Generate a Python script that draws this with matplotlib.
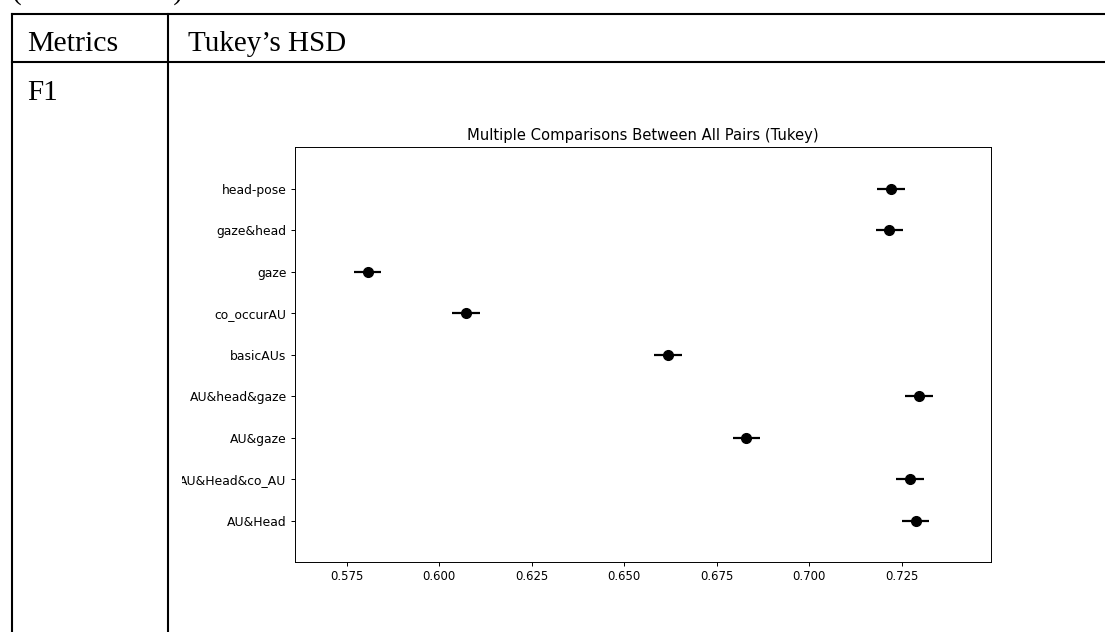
import matplotlib.pyplot as plt
from matplotlib.lines import Line2D
from matplotlib.transforms import Bbox, TransformedBbox

# group names (bottom to top) and Tukey group means
groups = ["AU&Head", "AU&Head&co_AU", "AU&gaze", "AU&head&gaze", "basicAUs",
          "co_occurAU", "gaze", "gaze&head", "head-pose"]
means = [0.7287, 0.7272, 0.6830, 0.7296, 0.6618, 0.6072, 0.5806, 0.7216, 0.7221]
halfwidth = [0.0037] * len(groups)

xticks = [0.575, 0.600, 0.625, 0.650, 0.675, 0.700, 0.725]

fig = plt.figure(figsize=(11.05, 6.32), dpi=100)

# table frame around the chart
W, H = 1105, 632
def fx(px):
    return px / W
def fy(py):
    return 1 - py / H

lw = 1.5
fig.add_artist(Line2D([fx(12), 1], [fy(14), fy(14)], color='black', lw=lw))
fig.add_artist(Line2D([fx(12), 1], [fy(62), fy(62)], color='black', lw=lw))
fig.add_artist(Line2D([fx(12), fx(12)], [fy(14), 0], color='black', lw=lw))
fig.add_artist(Line2D([fx(168), fx(168)], [fy(14), 0], color='black', lw=lw))

serif = ['Liberation Serif', 'DejaVu Serif']
# caption line above the table, only its lower edge is visible in the page crop
fig.text(fx(12), fy(-1), "(Continuation)", family=serif, fontsize=21, va='baseline')
fig.text(fx(27), fy(51), "Metrics", family=serif, fontsize=21.5, va='baseline')
fig.text(fx(188), fy(51), "Tukey’s HSD", family=serif, fontsize=21, va='baseline')
fig.text(fx(27), fy(100), "F1", family=serif, fontsize=21, va='baseline')

# the chart itself
ax = fig.add_axes([fx(295), fy(562), fx(990.7) - fx(295), fy(147.3) - fy(562)])
ypos = list(range(len(groups)))
ax.errorbar(means, ypos, xerr=halfwidth, fmt='o', color='black',
            markersize=7, elinewidth=1.6, capsize=0)
ax.set_ylim(-1, len(groups))
ax.set_xlim(0.561, 0.749)
ax.set_yticks(ypos)
ax.set_yticklabels(groups)
ax.set_xticks(xticks)
ax.set_xticklabels([f"{t:.3f}" for t in xticks])
ax.tick_params(length=3, width=0.7, pad=3)
ax.tick_params(axis='x', labelsize=8.4)
ax.tick_params(axis='y', labelsize=8.9)
ax.set_title("Multiple Comparisons Between All Pairs (Tukey)", fontsize=10.6, pad=5)
for s in ax.spines.values():
    s.set_linewidth(0.7)

# the embedded image was cropped on its left side
clip = TransformedBbox(Bbox([[fx(182), 0], [1, 1]]), fig.transFigure)
for lab in ax.get_yticklabels():
    lab.set_clip_box(clip)
    lab.set_clip_on(True)

fig.savefig("out.png", dpi=100)
